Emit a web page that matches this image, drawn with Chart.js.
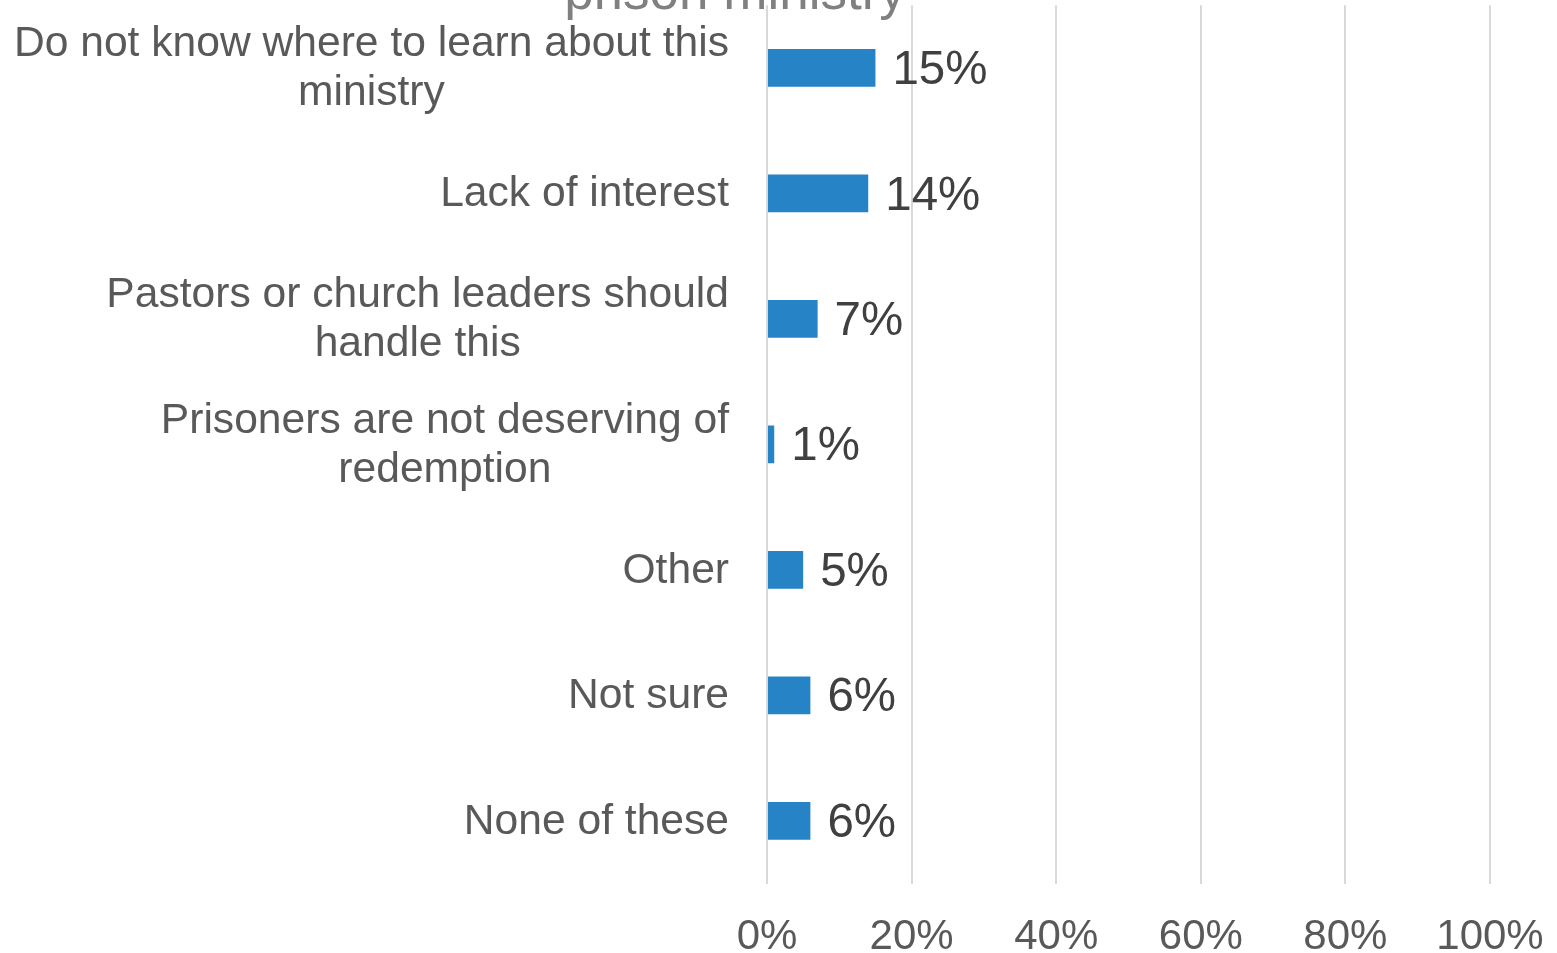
<!DOCTYPE html>
<html>
<head>
<meta charset="utf-8">
<script src="https://cdn.jsdelivr.net/npm/chart.js@4/dist/chart.umd.min.js"></script>
<style>
  html, body { margin: 0; padding: 0; background: #fff; overflow: hidden; }
  .frame { position: relative; width: 1557px; height: 953px; overflow: hidden; }
  .box { position: absolute; left: 0; top: -60px; width: 1573px; height: 1052px; }
</style>
</head>
<body>
<div class="frame">
  <div class="box"><canvas id="chart"></canvas></div>
</div>
<script>
const titleText = 'prison ministry';

const categories = [
  ['Do not know where to learn about this', 'ministry'],
  'Lack of interest',
  ['Pastors or church leaders should', 'handle this'],
  ['Prisoners are not deserving of', 'redemption'],
  'Other',
  'Not sure',
  'None of these',
];

const shares = [15, 14, 7, 1, 5, 6, 6];

const axisTicks = [0, 20, 40, 60, 80, 100];

const FONT = '"Liberation Sans", Arial, sans-serif';

Chart.defaults.font.family = FONT;

// category labels: block right-aligned to the axis, lines centred inside the block
const categoryLabels = {
  id: 'categoryLabels',
  afterDraw(chart) {
    const { ctx } = chart;
    const yScale = chart.scales.y;
    const right = chart.chartArea.left - 38;
    const lineGap = 49;

    ctx.save();
    ctx.font = `42.6px ${FONT}`;
    ctx.fillStyle = '#595959';
    ctx.textAlign = 'center';
    ctx.textBaseline = 'middle';

    categories.forEach((label, i) => {
      const lines = Array.isArray(label) ? label : [label];
      const blockWidth = Math.max(...lines.map((l) => ctx.measureText(l).width));
      const cx = right - blockWidth / 2;
      const cy = yScale.getPixelForTick(i) + 1;
      const firstY = cy - ((lines.length - 1) * lineGap) / 2;
      lines.forEach((line, j) => ctx.fillText(line, cx, firstY + j * lineGap));
    });
    ctx.restore();
  },
};

// value labels to the right of each bar
const valueLabels = {
  id: 'valueLabels',
  afterDatasetsDraw(chart) {
    const { ctx } = chart;
    const meta = chart.getDatasetMeta(0);

    ctx.save();
    ctx.font = `47.5px ${FONT}`;
    ctx.fillStyle = '#404040';
    ctx.textAlign = 'left';
    ctx.textBaseline = 'middle';
    meta.data.forEach((bar, i) => {
      ctx.fillText(`${shares[i]}%`, bar.x + 17, bar.y + 3);
    });
    ctx.restore();
  },
};

new Chart(document.getElementById('chart'), {
  type: 'bar',
  data: {
    labels: categories,
    datasets: [{
      data: shares,
      backgroundColor: '#2683C6',
      borderWidth: 0,
      barPercentage: 0.3,
      categoryPercentage: 1,
    }],
  },
  options: {
    indexAxis: 'y',
    responsive: true,
    maintainAspectRatio: false,
    animation: false,
    events: [],
    layout: { padding: { left: -20, right: 83, top: 0, bottom: 0 } },
    plugins: {
      legend: { display: false },
      tooltip: { enabled: false },
      title: {
        display: true,
        text: titleText,
        color: '#808080',
        font: { size: 53, lineHeight: 0.4, weight: 'normal' },
        padding: { top: 44, bottom: 0 },
      },
    },
    scales: {
      x: {
        min: 0,
        max: 100,
        afterBuildTicks(scale) {
          scale.ticks = axisTicks.map((value) => ({ value }));
        },
        grid: { color: '#d9d9d9', lineWidth: 2, drawTicks: false },
        border: { display: false },
        ticks: {
          color: '#595959',
          font: { size: 42 },
          padding: 29,
          callback: (v) => `${v}%`,
        },
      },
      y: {
        grid: { display: false, drawTicks: false },
        border: { display: false },
        ticks: { display: false },
        afterFit(scale) {
          scale.width = 787;
        },
      },
    },
  },
  plugins: [categoryLabels, valueLabels],
});
</script>
</body>
</html>
